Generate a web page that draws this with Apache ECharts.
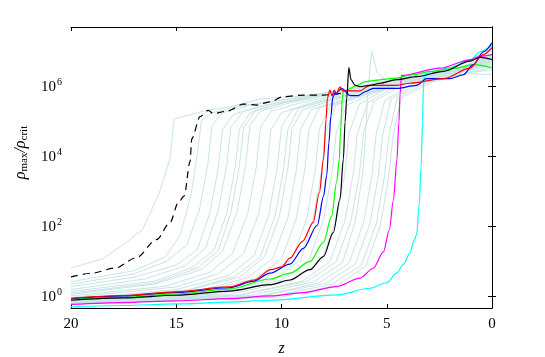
<!DOCTYPE html>
<html>
<head>
<meta charset="utf-8">
<script src="https://cdn.jsdelivr.net/npm/echarts@6/dist/echarts.min.js"></script>
<style>
html, body { margin: 0; padding: 0; background: #fff; }
#main { width: 545px; height: 357px; }
</style>
</head>
<body>
<div id="main"></div>
<script>
// z ticks and the log range of the density axis
var zTicks = [20, 15, 10, 5, 0];
var yRange = [0.475, 5.1e7];

// highlighted runs, [z, rho_max/rho_crit]
var dashedRun = [[20, 3.7], [19, 4.7], [17.9, 6.6], [16.9, 13], [15.93, 43], [15.3, 130], [14.9, 490], [14.62, 760],
    [14.35, 7e3], [14.26, 3.3e4], [13.87, 1.4e5], [13.48, 2.1e5], [13.24, 1.7e5], [12.6, 2e5], [11.8, 3.2e5],
    [11.2, 3e5], [10.55, 3.7e5], [9.91, 5.2e5], [8.96, 5.8e5], [8.01, 5.8e5], [7.14, 6.5e5]];
var redRun = [[20, 0.9], [17.5, 1.08], [15, 1.38], [12.5, 1.9], [11.3, 3], [10.5, 5.9], [10, 7], [9.6, 12.6], [9, 38],
    [8.5, 130], [8.2, 950], [8.0, 8.7e3], [7.88, 1.2e5], [7.82, 4.7e5], [7.7, 8e5], [7.6, 5.5e5], [7.5, 8e5],
    [7.38, 6.5e5], [7.22, 1e6], [7.1, 7.6e5], [6.3, 7.6e5], [5.8, 1.1e6], [4.5, 1.1e6], [3.9, 1.26e6],
    [2.3, 1.7e6], [1.05, 3.4e6], [0.42, 8.3e6], [0, 1.3e7]];
var blueRun = [[20, 0.88], [17.5, 1.05], [15, 1.33], [12.5, 1.8], [11.3, 2.8], [10.55, 4.7], [9.6, 8.5], [8.96, 24],
    [8.3, 110], [8.0, 760], [7.85, 3e3], [7.75, 2.5e4], [7.65, 1.5e5], [7.57, 4.7e5], [7.54, 5.2e5], [7.45, 7e5],
    [7.38, 6e5], [7.3, 7.6e5], [7.14, 9e5], [6.75, 5.6e5], [6.35, 5.6e5], [6.03, 7.2e5], [5.64, 9e5],
    [4.53, 9e5], [3.58, 1.1e6], [3.1, 1.7e6], [2.0, 1.7e6], [1.36, 2.2e6], [0.89, 4.3e6], [0.41, 1e7], [0, 1.8e7]];
var greenRun = [[20, 0.84], [17.5, 0.95], [15, 1.2], [12.5, 1.65], [10.55, 3.2], [9.6, 4.7], [8.65, 10], [8.01, 35],
    [7.62, 200], [7.38, 1.9e3], [7.25, 8.7e3], [7.2, 5e4], [7.11, 4.7e5], [7.05, 8e5], [6.9, 7.5e5], [6.75, 9e5],
    [6.4, 1.1e6], [6.03, 1.4e6], [5.65, 1.5e6], [4.7, 1.74e6], [3.74, 2.2e6], [2.95, 2.75e6], [1.68, 3.4e6],
    [0.89, 4.3e6], [0, 3.5e6]];
var blackRun = [[20, 0.79], [17.5, 0.92], [15, 1.1], [12.5, 1.45], [10.55, 2.2], [9.6, 3], [8.65, 5.9], [8.01, 14],
    [7.54, 68], [7.22, 620], [7.06, 8.7e3], [6.98, 1e5], [6.9, 4.7e5], [6.8, 3.5e6], [6.7, 1.6e6], [6.5, 1.1e6],
    [6.27, 1e6], [5.8, 1.1e6], [5.32, 1.26e6], [4.53, 1.6e6], [3.58, 1.95e6], [2.31, 2.75e6], [1.05, 5.4e6],
    [0.57, 6.9e6], [0, 6e6]];
var magentaRun = [[20, 0.6], [17.5, 0.68], [15, 0.76], [12.5, 0.88], [10.55, 1.05], [8.98, 1.3], [7.38, 1.95],
    [6.27, 3.4], [5.64, 6.5], [5.16, 19], [4.88, 80], [4.68, 600], [4.52, 8e3], [4.42, 1e5], [4.37, 6e5],
    [4.3, 2.1e6], [2.47, 3.4e6], [1.05, 5.9e6], [0.57, 7.4e6], [0, 8.3e6]];
var cyanRun = [[20, 0.51], [17.5, 0.56], [15, 0.62], [12.5, 0.7], [10.55, 0.79], [7.38, 1.12], [5.8, 1.74],
    [5, 2.5], [4.53, 4.7], [4.2, 8.5], [3.9, 18], [3.7, 40], [3.58, 60], [3.45, 500], [3.37, 5e3], [3.3, 1e5],
    [3.26, 1e6], [3.2, 2.2e6], [2.9, 2.7e6], [2, 3.5e6], [1, 6e6], [0.57, 1e7], [0, 1.5e7]];

// the faint background runs
var faintRuns = [
    [[20, 6.6], [18.5, 12], [17.4, 35], [16.6, 83], [15.8, 950], [15.3, 8.7e3], [15.1, 1.2e5], [13.6, 2.1e5], [12.5, 2.6e5], [11, 4.5e5], [9, 5.5e5], [7, 8e5], [5, 1.5e6], [3, 2.4e6], [1, 4e6], [0, 5e6]],
    [[20, 2.7], [17, 5.5], [15.5, 14], [14.8, 60], [14.3, 800], [14.0, 1.2e4], [13.8, 1.1e5], [13.3, 1.8e5], [12, 2.8e5], [10, 4.2e5], [8, 6.2e5], [6, 1e6], [4, 1.8e6], [2, 3e6], [0, 6e6]],
    [[20, 2.3], [17, 4.5], [15.5, 10], [14.5, 30], [13.9, 300], [13.5, 6e3], [13.3, 8e4], [12.8, 1.8e5], [11.5, 3e5], [9.5, 4.6e5], [7.5, 7e5], [5.5, 1.2e6], [3.5, 2e6], [1.5, 3.6e6], [0, 7e6]],
    [[20, 1.95], [17, 3.6], [15, 8], [14, 22], [13.4, 250], [13.0, 5e3], [12.8, 6e4], [12.3, 1.6e5], [11, 2.8e5], [9, 4.7e5], [7, 7.5e5], [5, 1.4e6], [3, 2.3e6], [1, 3.8e6], [0, 5.5e6]],
    [[20, 1.6], [16.5, 3.2], [14.6, 7.5], [13.6, 25], [13.0, 300], [12.6, 6e3], [12.4, 7e4], [11.8, 2e5], [10.5, 3.2e5], [8.5, 5.2e5], [6.5, 9e5], [4.5, 1.6e6], [2.5, 2.7e6], [0, 5e6]],
    [[20, 1.4], [16, 2.8], [14.2, 7], [13.2, 22], [12.6, 250], [12.2, 5e3], [12.0, 6e4], [11.5, 1.8e5], [10, 3.4e5], [8, 5.8e5], [6, 1e6], [4, 1.8e6], [2, 2.9e6], [0, 6.5e6]],
    [[20, 1.25], [16, 2.5], [14, 6.5], [13, 21], [12.4, 260], [12.0, 5.5e3], [11.8, 7e4], [11.2, 2.2e5], [9.8, 3.6e5], [7.8, 6e5], [5.8, 1.1e6], [3.8, 1.9e6], [1.8, 3.2e6], [0, 7.5e6]],
    [[20, 1.17], [16, 2.3], [13.8, 6], [12.8, 20], [12.1, 280], [11.7, 6e3], [11.5, 8e4], [11.0, 2e5], [9.5, 3.6e5], [7.5, 6.2e5], [5.5, 1.2e6], [3.5, 2e6], [1.5, 3.6e6], [0, 8e6]],
    [[20, 1.05], [15.5, 2], [13.4, 5], [12.3, 18], [11.6, 250], [11.2, 5e3], [11.0, 7e4], [10.5, 2e5], [9, 3.6e5], [7, 6.5e5], [5, 1.3e6], [3, 2.2e6], [1, 4e6], [0, 9e6]],
    [[20, 0.95], [15, 1.9], [13, 4.5], [11.8, 17], [11.1, 220], [10.7, 4e3], [10.5, 6e4], [10.0, 1.8e5], [8.5, 3.6e5], [6.5, 7e5], [4.5, 1.5e6], [2.5, 2.5e6], [0.5, 5e6], [0, 1.1e7]],
    [[20, 0.85], [15, 1.6], [12.5, 4], [11.3, 15], [10.6, 220], [10.2, 5e3], [10.0, 7e4], [9.5, 2.2e5], [8, 4e5], [6, 8e5], [4, 1.6e6], [2, 2.7e6], [0, 1.3e7]],
    [[20, 0.82], [14.5, 1.55], [12.2, 3.8], [11.0, 14], [10.3, 210], [9.9, 4.5e3], [9.7, 6e4], [9.2, 2.4e5], [7.8, 4e5], [5.8, 8.5e5], [3.8, 1.7e6], [1.8, 3e6], [0, 6.5e6]],
    [[20, 0.8], [14.5, 1.5], [12, 3.6], [10.8, 14], [10.1, 200], [9.7, 4.5e3], [9.5, 6.5e4], [9.0, 2.2e5], [7.5, 4.2e5], [5.5, 9e5], [3.5, 1.8e6], [1.5, 3.2e6], [0, 8e6]],
    [[20, 0.76], [14, 1.45], [11.6, 3.5], [10.4, 13], [9.7, 180], [9.3, 4e3], [9.1, 6e4], [8.6, 2.2e5], [7, 4.5e5], [5, 1e6], [3, 2e6], [1, 3.6e6], [0, 6e6]],
    [[20, 0.72], [14, 1.3], [11.2, 3.3], [10.0, 12], [9.3, 170], [8.9, 4e3], [8.7, 6e4], [8.2, 2.5e5], [6.5, 5e5], [4.5, 1.2e6], [2.5, 2.2e6], [0.5, 4.2e6], [0, 5e6]],
    [[20, 0.7], [13.5, 1.25], [10.8, 3.2], [9.5, 12], [8.8, 170], [8.4, 4e3], [8.2, 6e4], [7.7, 2.8e5], [6, 6e5], [4, 1.4e6], [2, 2.6e6], [0, 6e6]],
    [[20, 0.7], [13.2, 1.22], [10.4, 3.1], [9.1, 11], [8.5, 160], [8.1, 3.8e3], [7.9, 5.5e4], [7.4, 3e5], [5.8, 6.5e5], [3.8, 1.5e6], [1.8, 2.8e6], [0, 6.2e6]],
    [[20, 0.69], [13, 1.2], [10, 3], [8.7, 11], [8.0, 160], [7.6, 3.5e3], [7.4, 5e4], [6.9, 3e5], [5.5, 7e5], [3.5, 1.6e6], [1.5, 3.2e6], [0, 7e6]],
    [[20, 0.68], [12.5, 1.15], [9.5, 2.9], [8.1, 11], [7.4, 150], [7.0, 3e3], [6.8, 4.5e4], [6.3, 3.2e5], [5, 9e5], [3, 1.8e6], [1, 3.5e6], [0, 5.5e6]],
    [[20, 0.67], [12, 1.12], [9, 2.8], [7.7, 10], [7.0, 140], [6.6, 3e3], [6.4, 4.5e4], [5.9, 3.5e5], [4.5, 1.1e6], [2.5, 2e6], [0.5, 3.8e6], [0, 4.5e6]],
    [[20, 0.66], [12, 1.1], [8.8, 2.7], [7.4, 10], [6.7, 150], [6.3, 3.2e3], [6.1, 5e4], [5.6, 3.8e5], [4.2, 1.2e6], [2.2, 2.1e6], [0.3, 3.7e6], [0, 4e6]],
    [[20, 0.66], [11.5, 1.08], [8.5, 2.6], [7.1, 9.5], [6.5, 140], [6.15, 3e3], [6.0, 5e4], [5.9, 7e5], [5.72, 1.05e7], [5.45, 2.5e6], [5.0, 1.4e6], [3.5, 1.7e6], [2, 2.4e6], [0, 4.5e6]],
    [[20, 0.65], [11, 1.05], [8.2, 2.5], [6.8, 9], [6.1, 130], [5.7, 3e3], [5.5, 4.5e4], [5.1, 4e5], [3.8, 1.2e6], [1.8, 2.3e6], [0, 5e6]],
    [[20, 0.63], [11, 1.02], [7.9, 2.4], [6.5, 8.5], [5.8, 120], [5.4, 2.8e3], [5.2, 4e4], [4.8, 4.5e5], [3.4, 1.3e6], [1.4, 2.4e6], [0, 3.5e6]],
    [[20, 0.63], [10.5, 1.0], [7.6, 2.3], [6.2, 8], [5.5, 120], [5.1, 3e3], [4.9, 4e4], [4.5, 5e5], [3, 1.4e6], [1, 2.6e6], [0, 3e6]],
    [[20, 0.62], [10, 0.98], [7.3, 2.2], [6, 7.5], [5.3, 110], [4.9, 2.8e3], [4.7, 4e4], [4.3, 5e5], [2.8, 1.4e6], [1, 2.4e6], [0, 2.2e6]]
];

var serif = 'Liberation Serif';
var myChart = echarts.init(document.getElementById('main'));

function faintSeries(run) {
    return {
        type: 'line',
        data: run,
        symbol: 'none',
        silent: true,
        lineStyle: { color: '#c9e4e4', width: 1 }
    };
}

function mainSeries(run, color, dashed) {
    return {
        type: 'line',
        data: run,
        symbol: 'none',
        smooth: 0.3,
        smoothMonotone: 'x',
        lineStyle: { color: color, width: 1.2, type: dashed ? [7, 5] : 'solid' }
    };
}

var series = [];
for (var i = 0; i < faintRuns.length; i++) {
    series.push(faintSeries(faintRuns[i]));
}
series.push(mainSeries(dashedRun, '#000000', true));
series.push(mainSeries(cyanRun, '#00ffff'));
series.push(mainSeries(magentaRun, '#ff00ff'));
series.push(mainSeries(greenRun, '#00ff00'));
series.push(mainSeries(blueRun, '#0000ff'));
series.push(mainSeries(redRun, '#ff0000'));
series.push(mainSeries(blackRun, '#000000'));

var frameLine = { show: true, lineStyle: { color: '#000', width: 1 } };
var frameTick = { show: true, inside: true, length: 4, lineStyle: { color: '#000', width: 1 } };

var option = {
    animation: false,
    backgroundColor: '#fff',
    grid: { left: 71, right: 53, top: 27, bottom: 49, containLabel: false, outerBoundsMode: 'none' },
    xAxis: [{
        type: 'value',
        min: zTicks[zTicks.length - 1],
        max: zTicks[0],
        interval: 5,
        inverse: true,
        position: 'bottom',
        axisLine: frameLine,
        axisTick: frameTick,
        splitLine: { show: false },
        axisLabel: { color: '#000', fontFamily: serif, fontSize: 15, margin: 9 },
        name: 'z',
        nameLocation: 'middle',
        nameGap: 33,
        nameTextStyle: { color: '#000', fontFamily: serif, fontSize: 16, fontStyle: 'italic' }
    }, {
        type: 'value',
        min: zTicks[zTicks.length - 1],
        max: zTicks[0],
        interval: 5,
        inverse: true,
        position: 'top',
        axisLine: frameLine,
        axisTick: frameTick,
        splitLine: { show: false },
        axisLabel: { show: false }
    }],
    yAxis: [{
        type: 'log',
        logBase: 100,
        min: yRange[0],
        max: yRange[1],
        position: 'left',
        axisLine: frameLine,
        axisTick: frameTick,
        minorTick: { show: false },
        splitLine: { show: false },
        axisLabel: {
            color: '#000',
            margin: 9,
            showMinLabel: false,
            showMaxLabel: false,
            formatter: function(v) {
                return '{b|10}{s|' + Math.round(Math.log(v) / Math.LN10) + '}';
            },
            rich: {
                b: { fontFamily: serif, fontSize: 15, color: '#000' },
                s: { fontFamily: serif, fontSize: 10, color: '#000', padding: [0, 0, 9, 1] }
            }
        },
        name: '{r|ρ}{u|max}{r|/ρ}{u|crit}',
        nameLocation: 'middle',
        nameGap: 40,
        nameRotate: 90,
        nameTextStyle: {
            padding: [0, 0, 0, 30],
            rich: {
                r: { fontFamily: serif, fontSize: 16, color: '#000', fontStyle: 'italic' },
                u: { fontFamily: serif, fontSize: 11, color: '#000', padding: [8, 0, 0, 0] }
            }
        }
    }, {
        type: 'log',
        logBase: 100,
        min: yRange[0],
        max: yRange[1],
        position: 'right',
        axisLine: frameLine,
        axisTick: frameTick,
        minorTick: { show: false },
        splitLine: { show: false },
        axisLabel: { show: false }
    }],
    series: series
};

myChart.setOption(option);
</script>
</body>
</html>
